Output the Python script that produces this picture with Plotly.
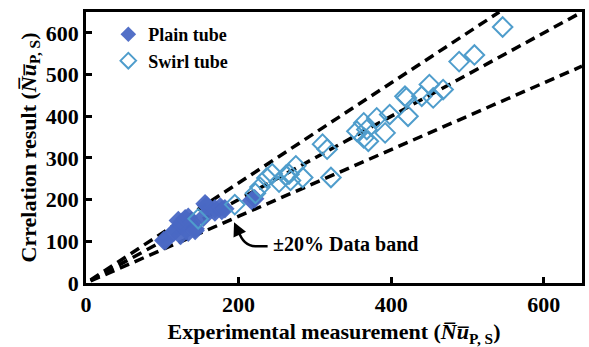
import plotly.graph_objects as go

# Plain tube: experimental vs. correlation Nusselt numbers
plain_exp = [102, 104, 115, 117, 121, 124, 126, 126, 130, 134, 134, 139, 143, 143, 154, 156, 158, 169, 169, 176, 178, 182, 217, 221]
plain_cor = [102, 102, 122, 126, 150, 114, 138, 146, 154, 122, 158, 146, 130, 126, 158, 190, 186, 170, 178, 182, 174, 178, 198, 202]

# Swirl tube
swirl_exp = [147, 195, 222, 228, 237, 244, 253, 262, 268, 275, 266, 284, 310, 316, 321,
             355, 364, 370, 368, 364, 381, 392, 398, 418, 420, 422, 440, 450, 455, 468, 489, 509, 546]
swirl_cor = [154, 188, 215, 230, 252, 262, 242, 258, 246, 281, 261, 253, 333, 321, 253,
             364, 348, 340, 368, 384, 396, 360, 404, 448, 444, 400, 448, 476, 444, 464, 531, 547, 614]

# Reference lines: perfect agreement and the +/-20% band
band_factors = [0.8, 1.0, 1.2]
axis_max = 650

x_ticks = [0, 200, 400, 600]
y_ticks = [0, 100, 200, 300, 400, 500, 600]

serif = "Liberation Serif"

fig = go.Figure()

for k in band_factors:
    x_end = min(axis_max, axis_max / k)
    fig.add_trace(go.Scatter(
        x=[6, x_end], y=[6 * k, k * x_end], mode="lines",
        line=dict(color="black", width=3.5, dash="10px,6px"),
        showlegend=False, hoverinfo="skip"))

fig.add_trace(go.Scatter(
    x=plain_exp, y=plain_cor, mode="markers", name="<b>Plain tube</b>",
    marker=dict(symbol="diamond", size=15, color="#4a68c4",
                line=dict(color="#4a68c4", width=0), opacity=0.95)))

fig.add_trace(go.Scatter(
    x=swirl_exp, y=swirl_cor, mode="markers", name="<b>Swirl tube</b>",
    marker=dict(symbol="diamond-open", size=15, color="#4f9dcc",
                line=dict(color="#4f9dcc", width=2))))

# Callout for the data band
fig.add_shape(type="path", xref="x", yref="y",
              path="M 238 88 L 222 88 Q 206 90 200 124",
              line=dict(color="black", width=2.5))
fig.add_annotation(x=194, y=146, ax=200, ay=122, xref="x", yref="y",
                   axref="x", ayref="y", text="", showarrow=True,
                   arrowhead=2, arrowsize=1.1, arrowwidth=2.5, arrowcolor="black")
fig.add_annotation(x=243, y=94, xref="x", yref="y", xanchor="left", yanchor="middle",
                   text="<b>±20% Data band</b>", showarrow=False,
                   font=dict(family=serif, size=20, color="black"))

nu = "<b><i>N̅u̅</i></b><sub><b>P, S</b></sub>"

fig.update_layout(
    width=589, height=347,
    margin=dict(l=86, r=4, t=12, b=64),
    paper_bgcolor="white", plot_bgcolor="white",
    font=dict(family=serif, size=18, color="black"),
    legend=dict(x=0.045, y=0.985, xanchor="left", yanchor="top",
                bgcolor="rgba(0,0,0,0)", font=dict(family=serif, size=18),
                itemsizing="constant", tracegroupgap=0),
    showlegend=True,
)

axis_common = dict(
    range=[0, axis_max], showgrid=False, zeroline=False,
    showline=True, linecolor="black", linewidth=2.5, mirror=True,
    ticks="inside", ticklen=6, tickwidth=2.5, tickcolor="black",
    tickfont=dict(family=serif, size=22, color="black"),
)

fig.update_xaxes(
    **axis_common, tickvals=x_ticks, ticktext=[f"<b>{v}</b>" for v in x_ticks],
    title=dict(text="<b>Experimental measurement (</b>" + nu + "<b>)</b>",
               font=dict(family=serif, size=22), standoff=8))
fig.update_yaxes(
    **axis_common, tickvals=y_ticks, ticktext=[f"<b>{v}</b>" for v in y_ticks],
    title=dict(text="<b>Crrelation result (</b>" + nu + "<b>)</b>",
               font=dict(family=serif, size=22), standoff=4))

fig.write_html("out.html")
